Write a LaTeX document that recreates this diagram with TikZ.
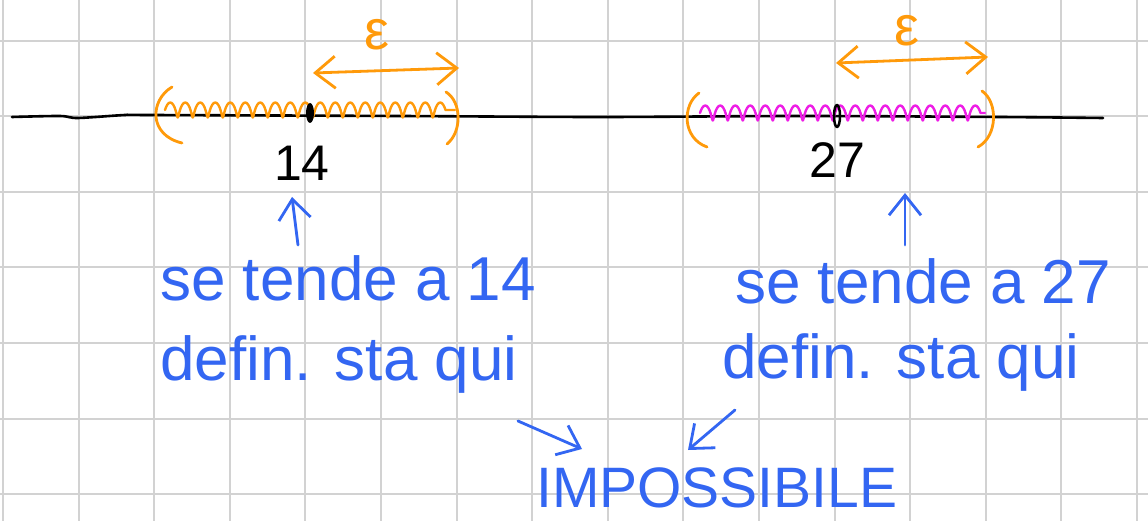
\documentclass[tikz,border=0pt]{standalone}
\usepackage{fontspec}
\setmainfont{Liberation Sans}
\usetikzlibrary{arrows.meta,decorations.pathmorphing}
\definecolor{gridgrey}{HTML}{D2D2D2}
\definecolor{epsorange}{HTML}{FF9A0A}
\definecolor{nbhdmagenta}{HTML}{EE1DE6}
\definecolor{noteblue}{HTML}{3366F2}

\begin{document}
\begin{tikzpicture}[
  x=1pt,
  y=-1pt,
  line join=round,
  line cap=round,
  gridline/.style={draw=gridgrey,line width=2pt},
  axisline/.style={draw=black,line width=2.6pt},
  bracket/.style={draw=epsorange,line width=2.8pt},
  fuzz/.style={line width=2.4pt,decorate,decoration={coil,amplitude=7.5pt,segment length=15pt,aspect=0.2}},
  epsarrow/.style={draw=epsorange,line width=2.8pt,{Straight Barb[length=20pt,width=32pt]}-{Straight Barb[length=20pt,width=32pt]}},
  notearrow/.style={draw=noteblue,line width=2.8pt,-{Straight Barb[length=20pt,width=32pt]}},
  note/.style={text=noteblue,inner sep=0pt,anchor=base west,font=\fontsize{62}{62}\selectfont},
  numlabel/.style={inner sep=0pt,font=\fontsize{50}{50}\selectfont},
  epslabel/.style={text=epsorange,inner sep=0pt,font=\fontsize{56}{56}\selectfont}
]
  % Page and squared paper.
  \useasboundingbox (0,0) rectangle (1148,521);
  \fill[white] (0,0) rectangle (1148,521);
  \begin{scope}
    \clip (0,0) rectangle (1148,521);
    \foreach \k in {0,...,15} {
      \draw[gridline] (3+75.6*\k,0) -- (3+75.6*\k,521);
    }
    \foreach \k in {0,...,6} {
      \draw[gridline] (0,40.7+75.6*\k) -- (1148,40.7+75.6*\k);
    }
  \end{scope}

  % Real line, drawn by hand.
  \draw[axisline] plot[smooth] coordinates {(12,117) (60,116) (78,118) (125,115) (150,115)
    (400,116) (600,117) (800,116) (1000,117) (1103,118)};

  % Neighbourhood of 14.
  \draw[fuzz,draw=epsorange] (165,110) -- (455,110);
  \draw[bracket] (172,87) .. controls (150,100) and (148,135) .. (182,143);
  \draw[bracket] (446,92) .. controls (462,102) and (462,132) .. (447,144);
  \fill[black] (310,113) ellipse[x radius=4, y radius=10];

  % Neighbourhood of 27.
  \draw[fuzz,draw=nbhdmagenta] (700,113) -- (985,113);
  \draw[bracket] (699,93) .. controls (682,105) and (682,138) .. (707,147);
  \draw[bracket] (982,91) .. controls (998,102) and (998,136) .. (978,147);
  \draw[black,line width=2.5pt] (837,116) ellipse[x radius=3, y radius=11];

  % Epsilon widths.
  \coordinate (epsL14) at (313,73);
  \coordinate (epsR14) at (459,68);
  \coordinate (epsL27) at (836,63);
  \coordinate (epsR27) at (988,57);
  \draw[epsarrow] (epsL14) -- (epsR14);
  \draw[epsarrow] (epsL27) -- (epsR27);
  \node[epslabel] (eps14) at (377,35) {ε};
  \node[epslabel] (eps27) at (907,31) {ε};

  % Limit points.
  \node[numlabel] (num14) at (302,163) {14};
  \node[numlabel] (num27) at (837,160) {27};

  % Notes.
  \node[note] (tend14) at (160,300) {se tende a 14};
  \node[note] (stay14) at (160,380) {defin. sta qui};
  \node[note] (tend27) at (735,303) {se tende a 27};
  \node[note] (stay27) at (722,378) {defin. sta qui};
  \node[text=noteblue,inner sep=0pt,anchor=base west,font=\fontsize{57}{57}\selectfont]
    (impossible) at (536,507) {IMPOSSIBILE};

  % Blue pointers.
  \coordinate (up14) at (298,245);
  \coordinate (tip14) at (292,197);
  \coordinate (up27) at (905,245);
  \coordinate (tip27) at (905,193);
  \draw[notearrow] (up14) -- (tip14);
  \draw[notearrow] (up27) -- (tip27);
  \coordinate (from14) at (518,421);
  \coordinate (to14) at (582,449);
  \coordinate (from27) at (735,410);
  \coordinate (to27) at (688,450);
  \draw[notearrow] (from14) -- (to14);
  \draw[notearrow] (from27) -- (to27);
\end{tikzpicture}
\end{document}
